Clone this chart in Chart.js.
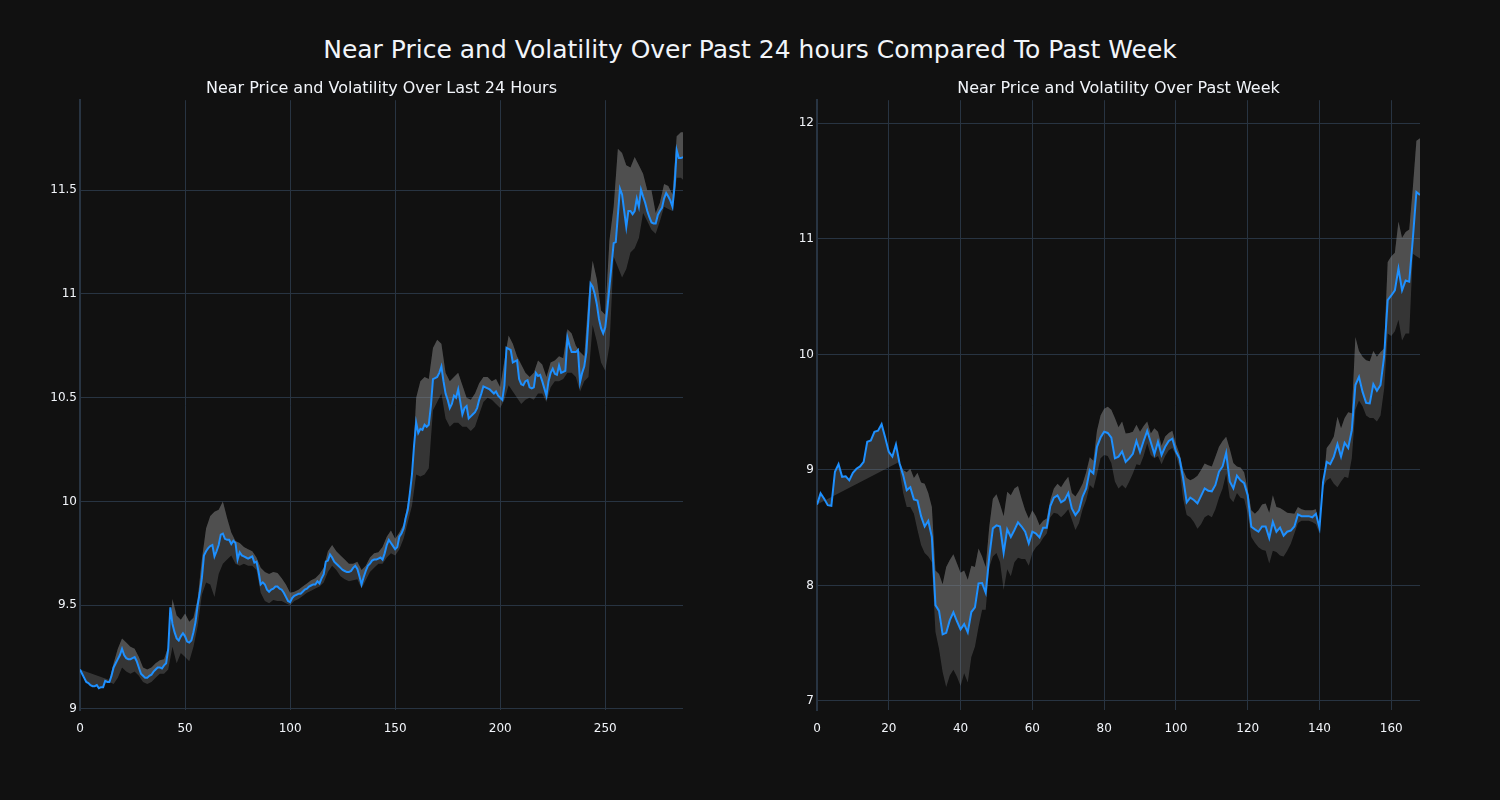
<!DOCTYPE html>
<html>
<head>
<meta charset="utf-8">
<script src="https://cdn.jsdelivr.net/npm/chart.js@4.4.0/dist/chart.umd.min.js"></script>
<style>
  html, body { margin: 0; padding: 0; background: #111111; }
  #wrap { position: relative; width: 1500px; height: 800px; background: #111111; }
  #mainTitle { position: absolute; left: 0; top: 35px; width: 1500px; text-align: center;
    font-family: "DejaVu Sans", sans-serif; font-size: 25px; line-height: 30px; color: #f2f5fa; }
  canvas { position: absolute; top: 0; }
</style>
</head>
<body>
<div id="wrap">
  <div id="mainTitle">Near Price and Volatility Over Past 24 hours Compared To Past Week</div>
  <canvas id="chartDay" width="750" height="800" style="left:0px"></canvas>
  <canvas id="chartWeek" width="750" height="800" style="left:750px"></canvas>
</div>
<script>
// last 24 hours, one value per 5 minutes
const dayPrice = [
  9.19, 9.17, 9.15, 9.13, 9.125, 9.115, 9.11, 9.11, 9.115, 9.10,
  9.105, 9.105, 9.135, 9.13, 9.13, 9.16, 9.20, 9.22, 9.24, 9.26,
  9.29, 9.26, 9.245, 9.24, 9.24, 9.245, 9.25, 9.23, 9.20, 9.17,
  9.16, 9.15, 9.15, 9.16, 9.165, 9.18, 9.19, 9.20, 9.20, 9.195,
  9.21, 9.22, 9.29, 9.49, 9.41, 9.37, 9.34, 9.33, 9.35, 9.365,
  9.35, 9.325, 9.32, 9.33, 9.37, 9.42, 9.50, 9.56, 9.63, 9.74,
  9.76, 9.775, 9.785, 9.79, 9.735, 9.76, 9.79, 9.84, 9.845, 9.82,
  9.815, 9.815, 9.795, 9.81, 9.80, 9.72, 9.755, 9.74, 9.735, 9.73,
  9.725, 9.73, 9.735, 9.705, 9.71, 9.66, 9.60, 9.61, 9.60, 9.575,
  9.565, 9.575, 9.58, 9.59, 9.59, 9.58, 9.575, 9.56, 9.54, 9.52,
  9.515, 9.535, 9.545, 9.55, 9.555, 9.555, 9.565, 9.575, 9.58, 9.59,
  9.595, 9.60, 9.60, 9.615, 9.605, 9.63, 9.65, 9.71, 9.715, 9.745,
  9.73, 9.71, 9.70, 9.69, 9.68, 9.67, 9.665, 9.66, 9.66, 9.665,
  9.68, 9.69, 9.675, 9.64, 9.60, 9.635, 9.665, 9.69, 9.70, 9.715,
  9.72, 9.72, 9.725, 9.73, 9.72, 9.75, 9.79, 9.815, 9.80, 9.785,
  9.77, 9.78, 9.83, 9.845, 9.87, 9.92, 9.96, 10.04, 10.13, 10.27,
  10.38, 10.33, 10.35, 10.345, 10.37, 10.36, 10.37, 10.46, 10.59, 10.595,
  10.60, 10.62, 10.65, 10.58, 10.52, 10.49, 10.45, 10.47, 10.51, 10.50,
  10.54, 10.48, 10.42, 10.45, 10.46, 10.40, 10.41, 10.42, 10.43, 10.45,
  10.49, 10.52, 10.555, 10.55, 10.545, 10.54, 10.53, 10.52, 10.53, 10.51,
  10.50, 10.49, 10.56, 10.74, 10.735, 10.73, 10.67, 10.675, 10.68, 10.59,
  10.565, 10.56, 10.58, 10.585, 10.55, 10.545, 10.55, 10.62, 10.605, 10.61,
  10.58, 10.545, 10.51, 10.58, 10.62, 10.64, 10.615, 10.61, 10.655, 10.62,
  10.625, 10.63, 10.79, 10.75, 10.72, 10.72, 10.72, 10.73, 10.575, 10.62,
  10.65, 10.72, 10.88, 11.05, 11.035, 11.00, 10.95, 10.88, 10.835, 10.81,
  10.84, 10.93, 11.034, 11.14, 11.245, 11.25, 11.38, 11.508, 11.48, 11.40,
  11.323, 11.40, 11.40, 11.385, 11.40, 11.46, 11.42, 11.503, 11.47, 11.44,
  11.40, 11.37, 11.345, 11.34, 11.34, 11.38, 11.40, 11.415, 11.46, 11.487,
  11.47, 11.45, 11.42, 11.52, 11.693, 11.655, 11.655, 11.66
];

// volatility band, read every second step
const dayBandIdx = [
  0, 14, 16, 18, 20, 22, 24, 26, 28, 30, 32, 34, 36, 38, 40, 42, 44, 46, 48, 50,
  52, 54, 56, 58, 60, 62, 64, 66, 68, 70, 72, 74, 76, 78, 80, 82, 84, 86, 88, 90,
  92, 94, 96, 98, 100, 102, 104, 106, 108, 110, 112, 114, 116, 118, 120, 122, 124, 126, 128, 130,
  132, 134, 136, 138, 140, 142, 144, 146, 148, 150, 152, 154, 156, 158, 160, 162, 164, 166, 168, 170,
  172, 174, 176, 178, 180, 182, 184, 186, 188, 190, 192, 194, 196, 198, 200, 202, 204, 206, 208, 210,
  212, 214, 216, 218, 220, 222, 224, 226, 228, 230, 232, 234, 236, 238, 240, 242, 244, 246, 248, 250,
  252, 254, 256, 258, 260, 262, 264, 266, 268, 270, 272, 274, 276, 278, 280, 282, 284, 286, 287
];
const dayUpper = [
  9.19, 9.14, 9.22, 9.29, 9.34, 9.32, 9.30, 9.29, 9.25, 9.20, 9.19, 9.20, 9.22, 9.235, 9.24, 9.30, 9.53, 9.45, 9.43, 9.46,
  9.42, 9.44, 9.53, 9.72, 9.87, 9.93, 9.95, 9.96, 10.0, 9.92, 9.85, 9.81, 9.80, 9.78, 9.77, 9.76, 9.73, 9.68, 9.66, 9.65,
  9.66, 9.655, 9.63, 9.60, 9.56, 9.565, 9.575, 9.59, 9.605, 9.62, 9.63, 9.65, 9.68, 9.76, 9.79, 9.76, 9.74, 9.72, 9.70, 9.70,
  9.71, 9.67, 9.69, 9.73, 9.75, 9.755, 9.78, 9.83, 9.86, 9.82, 9.85, 9.89, 9.99, 10.10, 10.50, 10.58, 10.60, 10.59, 10.74, 10.78,
  10.76, 10.62, 10.58, 10.60, 10.62, 10.56, 10.50, 10.49, 10.52, 10.57, 10.60, 10.60, 10.58, 10.59, 10.55, 10.68, 10.80, 10.76, 10.70, 10.66,
  10.62, 10.60, 10.62, 10.68, 10.66, 10.60, 10.67, 10.68, 10.70, 10.69, 10.83, 10.81, 10.75, 10.72, 10.70, 10.98, 11.16, 11.07, 10.92, 10.90,
  11.26, 11.42, 11.70, 11.68, 11.62, 11.61, 11.66, 11.62, 11.58, 11.50, 11.50, 11.39, 11.44, 11.53, 11.52, 11.48, 11.76, 11.78, 11.78
];
const dayLower = [
  null, 9.13, 9.12, 9.15, 9.20, 9.18, 9.17, 9.18, 9.16, 9.13, 9.12, 9.13, 9.15, 9.17, 9.17, 9.19, 9.30, 9.22, 9.27, 9.25,
  9.23, 9.30, 9.40, 9.55, 9.61, 9.60, 9.54, 9.65, 9.70, 9.72, 9.74, 9.70, 9.69, 9.70, 9.69, 9.69, 9.67, 9.56, 9.52, 9.51,
  9.525, 9.52, 9.52, 9.51, 9.50, 9.52, 9.53, 9.545, 9.56, 9.57, 9.58, 9.59, 9.61, 9.66, 9.69, 9.67, 9.64, 9.625, 9.615, 9.62,
  9.625, 9.58, 9.62, 9.66, 9.68, 9.70, 9.70, 9.73, 9.75, 9.74, 9.77, 9.82, 9.90, 9.98, 10.13, 10.12, 10.13, 10.16, 10.44, 10.48,
  10.52, 10.40, 10.36, 10.38, 10.38, 10.36, 10.36, 10.34, 10.36, 10.42, 10.48, 10.50, 10.49, 10.47, 10.45, 10.49, 10.56, 10.53, 10.50, 10.47,
  10.49, 10.50, 10.49, 10.52, 10.52, 10.48, 10.55, 10.58, 10.58, 10.59, 10.62, 10.62, 10.60, 10.53, 10.58, 10.60, 10.85, 10.77, 10.67, 10.63,
  10.75, 11.18, 11.13, 11.08, 11.12, 11.20, 11.22, 11.27, 11.39, 11.35, 11.31, 11.29, 11.35, 11.42, 11.41, 11.40, 11.56, 11.56, 11.55
];

// past week, one value per hour
const weekPrice = [
  8.70, 8.797, 8.75, 8.695, 8.69, 8.984, 9.05, 8.94, 8.945, 8.91,
  8.975, 9.01, 9.03, 9.07, 9.243, 9.255, 9.33, 9.34, 9.396, 9.28,
  9.157, 9.115, 9.22, 9.056, 8.955, 8.825, 8.85, 8.745, 8.735, 8.60,
  8.51, 8.56, 8.42, 7.83, 7.78, 7.577, 7.59, 7.70, 7.767, 7.69,
  7.62, 7.665, 7.594, 7.77, 7.81, 8.018, 8.02, 7.937, 8.25, 8.494,
  8.52, 8.51, 8.283, 8.485, 8.42, 8.48, 8.546, 8.51, 8.465, 8.364,
  8.465, 8.45, 8.416, 8.50, 8.50, 8.687, 8.76, 8.78, 8.72, 8.74,
  8.80, 8.667, 8.609, 8.65, 8.77, 8.84, 9.0, 8.97, 9.20, 9.28,
  9.33, 9.32, 9.28, 9.10, 9.115, 9.16, 9.07, 9.10, 9.14, 9.25,
  9.155, 9.25, 9.338, 9.24, 9.137, 9.245, 9.13, 9.20, 9.25, 9.27,
  9.16, 9.10, 8.93, 8.72, 8.76, 8.74, 8.71, 8.775, 8.84, 8.82,
  8.815, 8.87, 8.984, 9.03, 9.148, 8.90, 8.84, 8.95, 8.91, 8.885,
  8.78, 8.508, 8.485, 8.465, 8.51, 8.51, 8.41, 8.55, 8.465, 8.50,
  8.43, 8.465, 8.475, 8.51, 8.615, 8.60, 8.60, 8.60, 8.59, 8.62,
  8.50, 8.897, 9.07, 9.05, 9.115, 9.223, 9.115, 9.235, 9.19, 9.344,
  9.734, 9.805, 9.675, 9.58, 9.575, 9.742, 9.685, 9.735, 9.98, 10.47,
  10.51, 10.555, 10.743, 10.555, 10.64, 10.63, 11.0, 11.406, 11.38
];

const weekBandIdx = [
  0, 23, 24, 25, 26, 27, 28, 29, 30, 31, 32, 33, 34, 35, 36, 37, 38, 39, 40, 41,
  42, 43, 44, 45, 46, 47, 48, 49, 50, 51, 52, 53, 54, 55, 56, 57, 58, 59, 60, 61,
  62, 63, 64, 65, 66, 67, 68, 69, 70, 71, 72, 73, 74, 75, 76, 77, 78, 79, 80, 81,
  82, 83, 84, 85, 86, 87, 88, 89, 90, 91, 92, 93, 94, 95, 96, 97, 98, 99, 100, 101,
  102, 103, 104, 105, 106, 107, 108, 109, 110, 111, 112, 113, 114, 115, 116, 117, 118, 119, 120, 121,
  122, 123, 124, 125, 126, 127, 128, 129, 130, 131, 132, 133, 134, 135, 136, 137, 138, 139, 140, 141,
  142, 143, 144, 145, 146, 147, 148, 149, 150, 151, 152, 153, 154, 155, 156, 157, 158, 159, 160, 161,
  162, 163, 164, 165, 166, 167, 168
];
const weekUpper = [
  8.70, 9.07, 9.00, 8.98, 9.01, 8.93, 8.975, 8.89, 8.88, 8.80, 8.68, 8.13, 8.10, 8.01, 8.16, 8.22, 8.27, 8.19, 8.11, 8.13,
  8.05, 8.17, 8.16, 8.32, 8.25, 8.16, 8.51, 8.75, 8.79, 8.70, 8.60, 8.81, 8.78, 8.84, 8.86, 8.75, 8.65, 8.58, 8.65, 8.60,
  8.52, 8.56, 8.58, 8.74, 8.84, 8.88, 8.85, 8.90, 8.94, 8.80, 8.77, 8.82, 8.88, 8.98, 9.11, 9.08, 9.34, 9.47, 9.53, 9.546,
  9.52, 9.45, 9.37, 9.42, 9.315, 9.32, 9.33, 9.39, 9.33, 9.38, 9.42, 9.315, 9.36, 9.33, 9.21, 9.29, 9.32, 9.34, 9.225, 9.14,
  9.00, 8.93, 8.91, 8.925, 8.95, 9.00, 9.056, 9.04, 9.03, 9.115, 9.20, 9.25, 9.286, 9.18, 9.06, 9.03, 9.02, 8.98, 8.83, 8.65,
  8.62, 8.65, 8.70, 8.71, 8.63, 8.78, 8.68, 8.67, 8.65, 8.63, 8.625, 8.62, 8.68, 8.66, 8.65, 8.65, 8.65, 8.66, 8.48, 8.84,
  9.19, 9.23, 9.29, 9.46, 9.36, 9.45, 9.50, 9.49, 10.15, 10.03, 9.98, 9.95, 9.94, 10.03, 9.98, 10.02, 10.05, 10.80, 10.85, 10.88,
  11.15, 11.01, 11.06, 11.08, 11.44, 11.85, 11.87
];
const weekLower = [
  null, 9.00, 8.80, 8.68, 8.68, 8.62, 8.48, 8.35, 8.28, 8.25, 8.20, 7.60, 7.45, 7.25, 7.12, 7.22, 7.27, 7.21, 7.13, 7.24,
  7.16, 7.38, 7.47, 7.64, 7.79, 7.79, 8.16, 8.25, 8.28, 8.20, 7.96, 8.14, 8.08, 8.20, 8.24, 8.23, 8.23, 8.17, 8.28, 8.33,
  8.36, 8.41, 8.45, 8.59, 8.63, 8.62, 8.59, 8.62, 8.66, 8.57, 8.48, 8.54, 8.66, 8.74, 8.87, 8.84, 8.96, 9.10, 9.13, 9.12,
  9.06, 8.90, 8.84, 8.87, 8.84, 8.90, 8.97, 9.05, 9.04, 9.12, 9.23, 9.13, 9.10, 9.12, 9.05, 9.12, 9.17, 9.19, 9.13, 9.02,
  8.75, 8.61, 8.59, 8.55, 8.49, 8.53, 8.59, 8.61, 8.59, 8.66, 8.76, 8.84, 8.97, 8.76, 8.72, 8.80, 8.76, 8.75, 8.62, 8.42,
  8.37, 8.33, 8.31, 8.30, 8.19, 8.30, 8.29, 8.26, 8.25, 8.30, 8.36, 8.45, 8.54, 8.56, 8.56, 8.56, 8.55, 8.53, 8.45, 8.85,
  8.91, 8.93, 8.88, 8.85, 8.90, 8.94, 8.93, 9.10, 9.52, 9.60, 9.55, 9.47, 9.45, 9.45, 9.42, 9.47, 9.70, 10.18, 10.16, 10.20,
  10.30, 10.12, 10.18, 10.18, 10.87, 10.85, 10.83
];

const dayTicksY = { min: 8.995, max: 11.934, step: 0.5 };
const weekTicksY = { min: 6.922, max: 12.2, step: 1 };
const dayTicksX = { max: 287, step: 50 };
const weekTicksX = { max: 168, step: 20 };

const textColor = "#f2f5fa";
const gridColor = "#283442";
const lineColor = "#1e90ff";
const bandColor = "rgba(140, 140, 140, 0.3)";
const fontFamily = "'DejaVu Sans', sans-serif";

const toPoints = (xs, ys) => ys.map((v, i) => ({ x: xs ? xs[i] : i, y: v }));

const fmt = (v) => String(parseFloat(Number(v).toFixed(2)));

const generarGrafica = (canvas, title, price, bandIdx, upper, lower, tx, ty, yWidth, pad) => {
  return new Chart(canvas, {
    type: "line",
    data: {
      datasets: [
        {
          label: "Price",
          data: toPoints(null, price),
          borderColor: lineColor,
          borderWidth: 2,
          pointRadius: 0,
          fill: false,
          tension: 0,
        },
        {
          label: "Upper",
          data: toPoints(bandIdx, upper),
          borderWidth: 0,
          borderColor: "rgba(0,0,0,0)",
          backgroundColor: bandColor,
          pointRadius: 0,
          fill: 0,
          tension: 0,
        },
        {
          label: "Lower",
          data: toPoints(bandIdx, lower),
          borderWidth: 0,
          borderColor: "rgba(0,0,0,0)",
          backgroundColor: bandColor,
          pointRadius: 0,
          fill: 1,
          tension: 0,
        },
      ],
    },
    options: {
      responsive: false,
      animation: false,
      layout: { padding: pad },
      plugins: {
        legend: { display: false },
        tooltip: { enabled: false },
        title: {
          display: true,
          text: title,
          color: textColor,
          fullSize: false,
          font: { family: fontFamily, size: 16, weight: "normal" },
          padding: { top: 0, bottom: 2 },
        },
      },
      scales: {
        x: {
          type: "linear",
          min: 0,
          max: tx.max,
          afterFit: (s) => { s.height = 30; },
          grid: { color: gridColor, lineWidth: 1, drawTicks: false },
          border: { display: false },
          ticks: {
            stepSize: tx.step,
            includeBounds: false,
            color: textColor,
            padding: 12,
            maxRotation: 0,
            font: { family: fontFamily, size: 12 },
          },
        },
        y: {
          type: "linear",
          min: ty.min,
          max: ty.max,
          afterFit: (s) => { s.width = yWidth; },
          grid: { color: gridColor, lineWidth: 1, drawTicks: false },
          border: { display: true, color: gridColor, width: 2 },
          ticks: {
            stepSize: ty.step,
            includeBounds: false,
            color: textColor,
            padding: 3,
            callback: (v) => fmt(v),
            font: { family: fontFamily, size: 12 },
          },
        },
      },
    },
  });
};

window.chartDay = generarGrafica(
  document.getElementById("chartDay"),
  "Near Price and Volatility Over Last 24 Hours",
  dayPrice, dayBandIdx, dayUpper, dayLower,
  dayTicksX, dayTicksY, 80,
  { left: 0, right: 67, top: 79, bottom: 60 }
);

window.chartWeek = generarGrafica(
  document.getElementById("chartWeek"),
  "Near Price and Volatility Over Past Week",
  weekPrice, weekBandIdx, weekUpper, weekLower,
  weekTicksX, weekTicksY, 67,
  { left: 0, right: 80, top: 79, bottom: 60 }
);
</script>
</body>
</html>
